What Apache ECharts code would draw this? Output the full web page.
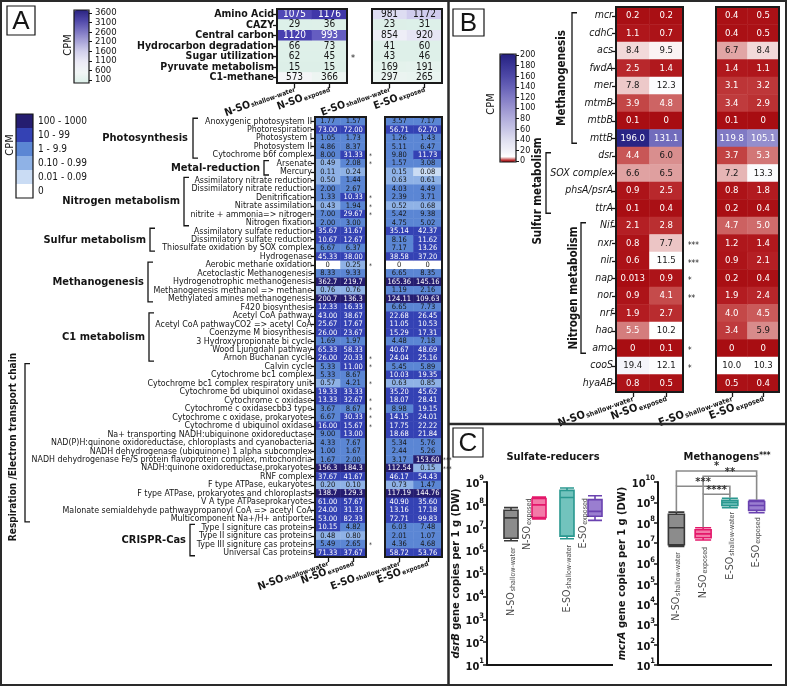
<!DOCTYPE html>
<html><head><meta charset="utf-8">
<script src="https://cdn.jsdelivr.net/npm/echarts@6.0.0/dist/echarts.min.js"></script>
<style>html,body{margin:0;padding:0;background:#fff;}#chart{width:787px;height:686px;}</style>
</head><body><div id="chart"></div>
<script>
// ================= DATA =================
const sites = ['N-SO','N-SO','E-SO','E-SO'];
const habitats = ['shallow-water','exposed','shallow-water','exposed'];

// Panel A (top)
const topRows = ['Amino Acid','CAZY','Central carbon','Hydrocarbon degradation','Sugar utilization','Pyruvate metabolism','C1-methane'];
const topNSOsw = [1075,29,1120,66,62,15,573];
const topNSOex = [1176,36,993,73,45,15,366];
const topESOsw = [981,23,854,41,43,169,297];
const topESOex = [1172,31,920,60,46,191,265];
const topSig = [{row:4,text:'*'}];
const topTickVals = [100,600,1100,1600,2100,2600,3100,3600];

// Panel A (bottom)
const aRows = ['Anoxygenic photosystem II','Photorespiration','Photosystem I','Photosystem II','Cytochrome b6f complex',
'Arsenate','Mercury',
'Assimilatory nitrate reduction','Dissimilatory nitrate reduction','Denitrification','Nitrate assimilation','nitrite + ammonia=> nitrogen','Nitrogen fixation',
'Assimilatory sulfate reduction','Dissimilatory sulfate reduction','Thiosulfate oxidation by SOX complex','Hydrogenase',
'Aerobic methane oxidation','Acetoclastic Methanogenesis','Hydrogenotrophic methanogenesis','Methanogenesis methanol => methane','Methylated amines methanogenesis','F420 biosynthesis',
'Acetyl CoA pathway','Acetyl CoA pathwayCO2 => acetyl CoA','Coenzyme M biosynthesis','3 Hydroxypropionate bi cycle','Wood Ljungdahl pathway','Arnon Buchanan cycle','Calvin cycle',
'Cytochrome bc1 complex','Cytochrome bc1 complex respiratory unit','Cytochrome bd ubiquinol oxidase','Cytochrome c oxidase','Cytochrome c oxidasecbb3 type','Cytochrome c oxidase, prokaryotes','Cytochrome d ubiquinol oxidase',
'Na+ transporting NADH:ubiquinone oxidoreductase','NAD(P)H:quinone oxidoreductase, chloroplasts and cyanobacteria','NADH dehydrogenase (ubiquinone) 1 alpha subcomplex','NADH dehydrogenase Fe/S protein flavoprotein complex, mitochondria','NADH:quinone oxidoreductase,prokaryotes','RNF complex',
'F type ATPase, eukaryotes','F type ATPase, prokaryotes and chloroplasts','V A type ATPaseprokaryotes','Malonate semialdehyde pathwaypropanoyl CoA => acetyl CoA','Multicomponent Na+/H+ antiporter',
'Type I signiture cas proteins','Type II signiture cas proteins','Type III signiture cas proteins','Universal Cas proteins'];
const aNSOsw = [1.77,73.00,1.05,4.86,8.00, 0.49,0.11, 0.50,2.00,1.33,0.43,7.00,2.00, 35.67,10.67,6.67,45.33, 0,8.33,362.7,0.76,200.7,12.33, 43.00,25.67,26.00,1.69,65.33,26.00,5.33, 5.33,0.57,19.33,13.33,3.67,6.67,16.00, 9.00,4.33,1.00,1.67,156.3,37.67, 0.20,138.7,61.00,24.00,53.00, 10.15,0.48,5.49,71.33];
const aNSOex = [1.57,72.00,1.73,8.37,31.33, 2.08,0.24, 1.44,2.67,10.33,1.94,29.67,3.00, 31.67,12.67,6.37,38.00, 0.25,9.33,219.7,0.76,136.3,16.33, 38.67,17.67,23.67,1.97,58.33,20.33,11.00, 8.67,4.21,33.33,32.67,8.67,30.33,15.67, 13.00,7.67,1.67,2.00,184.3,41.67, 0.10,129.3,57.67,31.33,82.33, 4.82,0.80,2.65,37.67];
const aESOsw = [3.57,56.71,1.26,5.11,9.80, 1.57,0.15, 0.63,4.03,2.39,0.52,5.42,4.75, 35.14,8.16,7.17,38.58, 0,6.65,165.36,1.19,124.11,6.65, 22.68,11.05,15.29,4.48,40.67,24.04,5.45, 10.03,0.63,35.20,18.07,8.98,14.15,17.75, 18.68,5.34,2.44,3.17,112.54,46.17, 0.73,117.19,40.90,13.16,72.71, 6.03,2.01,4.36,58.72];
const aESOex = [7.17,62.70,1.43,6.47,11.73, 3.08,0.08, 0.61,4.49,3.71,0.68,9.38,5.02, 42.37,11.62,13.26,37.20, 0,8.35,145.16,2.16,109.63,7.73, 26.45,10.53,17.31,7.18,48.69,25.16,5.89, 19.35,0.85,45.62,28.41,19.15,24.01,22.22, 21.84,5.76,5.26,153.60,0.15,54.43, 1.47,144.76,35.60,17.18,99.83, 7.48,1.07,4.68,53.76];
const aSigN = [4,5,9,10,11,17,28,29,31,33,34,35,36,50];
const aSigE = [{row:40,text:'***'},{row:41,text:'***'}];
const aGroups = [
  {name:'Photosynthesis',from:0,to:4},{name:'Metal-reduction',from:5,to:6},{name:'Nitrogen metabolism',from:7,to:12},
  {name:'Sulfur metabolism',from:13,to:15},{name:'Methanogenesis',from:17,to:21},{name:'C1 metabolism',from:23,to:28},
  {name:'Respiration /Electron transport chain',from:29,to:47},{name:'CRISPR-Cas',from:48,to:51}];
const aBins = [
  {gte:100,label:'100 - 1000'},{gte:10,lt:100,label:'10 - 99'},{gte:1,lt:10,label:'1 - 9.9'},
  {gte:0.1,lt:1,label:'0.10 - 0.99'},{gte:0.01,lt:0.1,label:'0.01 - 0.09'},{value:0,label:'0'}];

// Panel B
const bRows = ['mcr','cdhC','acs','fwdA','mer','mtmB','mtbB','mttB','dsr','SOX complex','phsA/psrA','ttrA','Nif','nxr','nir','nap','nor','nrf','hao','amo','cooS','hyaAB'];
const bNSOsw = [0.2,1.1,8.4,2.5,7.8,3.9,0.1,196.0,4.4,6.6,0.9,0.1,2.1,0.8,0.6,0.013,0.9,1.9,5.5,0,19.4,0.8];
const bNSOex = [0.2,0.7,9.5,1.4,12.3,4.8,0,131.1,6.0,6.5,2.5,0.4,2.8,7.7,11.5,0.9,4.1,2.7,10.2,0.1,12.1,0.5];
const bESOsw = [0.4,0.4,6.7,1.4,3.1,3.4,0.1,119.8,3.7,7.2,0.8,0.2,4.7,1.2,0.9,0.2,1.9,4.0,3.4,0,10.0,0.5];
const bESOex = [0.5,0.5,8.4,1.1,3.2,2.9,0,105.1,5.3,13.3,1.8,0.4,5.0,1.4,2.1,0.4,2.4,4.5,5.9,0,10.3,0.4];
const bSig = [{row:13,text:'***'},{row:14,text:'***'},{row:15,text:'*'},{row:16,text:'**'},{row:19,text:'*'},{row:20,text:'*'}];
const bGroups = [{name:'Methanogenesis',from:0,to:7},{name:'Sulfur metabolism',from:8,to:11},{name:'Nitrogen metabolism',from:12,to:19}];

// Panel C  [min, Q1, median, Q3, max]
const cTitles = ['Sulfate-reducers','Methanogens'];
const srBox = [[2.7e6,3.5e6,2.7e7,5.8e7,7.6e7],[2.4e7,2.8e7,1.0e8,1.9e8,2.2e8],[3.3e6,4.3e6,2.1e8,4.3e8,5.5e8],[2.1e7,3.2e7,5.2e7,1.7e8,2.5e8]];
const mgBox = [[6.8e6,8.2e6,5.6e7,2.6e8,3.3e8],[1.4e7,1.8e7,2.8e7,4.5e7,5.6e7],[5.5e8,7.0e8,1.0e9,1.26e9,1.6e9],[3.1e8,4.0e8,7.0e8,1.1e9,1.26e9]];
const mgSig = [{a:0,b:3,text:'*'},{a:1,b:3,text:'**'},{a:0,b:2,text:'***'},{a:1,b:2,text:'****'}];

// ================= STYLE / LAYOUT =================
const FN = '"DejaVu Sans Condensed","Liberation Sans",Arial,sans-serif';
const INK = '#151515';
function hex2rgb(h){h=h.replace('#','');return [0,2,4].map(i=>parseInt(h.substr(i,2),16));}
function rgb2hex(c){return '#'+c.map(v=>Math.max(0,Math.min(255,Math.round(v))).toString(16).padStart(2,'0')).join('');}
function interp(an,v){
  if(v<=an[0][0]) return an[0][1];
  for(let i=1;i<an.length;i++){ if(v<=an[i][0]){const [v0,c0]=an[i-1],[v1,c1]=an[i];const t=(v-v0)/(v1-v0);const a=hex2rgb(c0),b=hex2rgb(c1);return rgb2hex(a.map((x,k)=>x+(b[k]-x)*t));}}
  return an[an.length-1][1];
}
function ramp(an,min,max,n){const o=[];for(let i=0;i<n;i++)o.push(interp(an,min+(max-min)*i/(n-1)));return o;}
function lum(h){const [r,g,b]=hex2rgb(h);return (0.299*r+0.587*g+0.114*b)/255;}

const topNAnch = [[0,'#dcefe8'],[100,'#e0f1ea'],[300,'#e9f4f0'],[500,'#f3f6f6'],[600,'#f4f4f8'],[700,'#dedcf1'],[800,'#b4afe0'],[900,'#8a82cf'],[1000,'#625ac0'],[1100,'#4b42b2'],[1200,'#3c33a6']];
const topEAnch = [[0,'#dcefe8'],[100,'#e0f1ea'],[300,'#ebf4f1'],[600,'#f2f4f6'],[850,'#eeeef7'],[1000,'#dcdaf1'],[1200,'#cecaec']];
const topBarAnch = [[100,'#dcefe8'],[600,'#f2f6f6'],[1100,'#ecebf6'],[1600,'#d2d0ec'],[2100,'#a8a3d8'],[2600,'#7b74c2'],[3100,'#4f47a8'],[3600,'#2a2380']];
const binColors = ['#251d70','#3442b4','#5b86d4','#8fb2e6','#cadcf4','#ffffff'];
const bAnch = [[0,'#a80d12'],[2,'#b31d22'],[4,'#c44848'],[6,'#d98e8e'],[8,'#efcfcf'],[10,'#ffffff'],[20,'#f3f3f9'],[40,'#e0e0f0'],[60,'#c8c6e6'],[80,'#b2aedc'],[100,'#9a94d0'],[120,'#807ac4'],[140,'#6560b6'],[160,'#4d48a6'],[180,'#383494'],[200,'#252080']];
const boxColors = [{fill:'#8c8c8c',line:'#383838'},{fill:'#f37aa8',line:'#e4176a'},{fill:'#72c3bd',line:'#2a9890'},{fill:'#9a7ed0',line:'#6a42b0'}];

// grids: [left, top, width, height]
const G = [[277,9,70,74],[372,9,70,74],[315,117,51,440],[385,117,57,440],[616,7,67,385],[716,7,63,385],[497,482,112,183],[663,482,107,183],[89,13,1,67],[516,55,1,106]];

const chart = echarts.init(document.getElementById('chart'), null, {renderer:'canvas'});

function cells(cols){const d=[];cols.forEach((col,c)=>col.forEach((v,r)=>d.push([c,r,v])));return d;}
function sampleLab(i){return sites[i]+'|'+habitats[i];}

function catX(gi, labels, mSize, sSize, margin){
  return {type:'category', gridIndex:gi, data:labels, position:'bottom',
    axisLine:{show:false}, axisTick:{show:true,length:5,alignWithLabel:true,lineStyle:{color:INK,width:1.3}},
    splitLine:{show:false},
    axisLabel:{show:true, interval:0, rotate:20, margin:margin,
      formatter:v=>{const p=v.split('|');return '{m|'+p[0]+'}{s|'+p[1]+'}';},
      rich:{m:{fontFamily:FN,fontWeight:'bold',fontSize:mSize,color:INK,lineHeight:mSize,verticalAlign:'top'},
            s:{fontFamily:FN,fontWeight:'bold',fontSize:sSize,color:INK,lineHeight:sSize,padding:[mSize-sSize+3,0,0,1],verticalAlign:'bottom'}}}};
}
function catY(gi, rows, show, lab){
  return {type:'category', gridIndex:gi, data:rows, inverse:true,
    axisLine:{show:false}, splitLine:{show:false},
    axisTick:{show:show,length:4,alignWithLabel:true,lineStyle:{color:INK,width:1.3}},
    axisLabel:Object.assign({show:show,interval:0,margin:3,color:INK,fontFamily:FN},lab)};
}
function logY(gi,max,nameRich){
  return {type:'log', gridIndex:gi, logBase:10, min:10, max:max, splitNumber:12, offset: gi===6?10:5,
    axisLine:{show:true,lineStyle:{color:INK,width:2}}, axisTick:{show:true,length:4,lineStyle:{color:INK,width:1.5}},
    splitLine:{show:false}, minorTick:{show:false},
    axisLabel:{margin:3, showMinLabel:true, showMaxLabel:true, formatter:v=>'{b|10}{p|'+Math.round(Math.log10(v))+'}',
      rich:{b:{fontFamily:FN,fontWeight:'bold',fontSize:11,color:INK,lineHeight:15,verticalAlign:'bottom'},
            p:{fontFamily:FN,fontWeight:'bold',fontSize:7.5,color:INK,lineHeight:8,verticalAlign:'top'}}},
    name:nameRich, nameLocation:'middle', nameGap: gi===6?22:26, nameRotate:90,
    nameTextStyle:{rich:{i:{fontFamily:FN,fontWeight:'bold',fontStyle:'italic',fontSize:11,color:INK},
                         n:{fontFamily:FN,fontWeight:'bold',fontSize:11,color:INK}}}};
}
function catC(gi){
  return {type:'category', gridIndex:gi, data:[0,1,2,3], boundaryGap:true,
    axisLine:{show:false}, axisTick:{show:false}, axisLabel:{show:false}, splitLine:{show:false}};
}

function hmLabel(fmt, colorFn, fs){
  return {show:true, formatter:p=>{const v=p.value[2];return '{'+(colorFn(v,p)?'w':'d')+'|'+fmt(v)+'}';},
    rich:{w:{color:'#ffffff',fontFamily:FN,fontSize:fs},d:{color:'#161616',fontFamily:FN,fontSize:fs}}};
}
const fmtTop = v=>String(v);
const fmtAN = v=>v===0?'0':(v>=100?v.toFixed(1):v.toFixed(2));
const fmtAE = v=>v===0?'0':v.toFixed(2);
const fmtB = v=>v===0?'0':(v<0.05?String(v):v.toFixed(1));

function boxData(arr){return arr.map((b,i)=>({value:b,itemStyle:{color:boxColors[i].fill,borderColor:boxColors[i].line,borderWidth:1.6}}));}

const subRich = {m:{fontFamily:FN,fontSize:10.5,color:INK,lineHeight:11,verticalAlign:'top'},
                 s:{fontFamily:FN,fontSize:7,color:INK,lineHeight:7,padding:[6,0,0,1],verticalAlign:'bottom'}};
// label offsets are in the rotated frame: [along text, across text]
function catLabels(tops, offs){
  return tops.map((t,i)=>({value:[i,t], label:{offset:[0,offs[i]]}}));
}
const srLabTop = [1.7e6, 2.3e8, 2.2e6, 2.4e8];
const srLabOff = [0,-12,0,-12];
const mgLabTop = [4.5e6, 8.0e6, 4.2e8, 2.3e8];
const mgLabOff = [0,0,0,0];

const hmBase = {type:'heatmap', progressive:0, emphasis:{disabled:true}, itemStyle:{borderWidth:0}};
const cbAxis = (gi,min,max,iv,fs,showLab)=>({type:'value',gridIndex:gi,position:'right',min:min,max:max,interval:iv,
  axisLine:{show:false},splitLine:{show:false},axisTick:{show:true,length:3,lineStyle:{color:INK}},
  axisLabel:{show:showLab,margin:3,fontFamily:FN,fontSize:fs,color:INK,formatter:v=>String(v)}});

const option = {
  animation:false, backgroundColor:'#ffffff', tooltip:{show:false},
  grid: G.map(([l,t,w,h])=>({left:l,top:t,width:w,height:h,containLabel:false,outerBoundsMode:'none'})),
  xAxis:[
    catX(0,[sampleLab(0),sampleLab(1)],10.5,6.5,5), catX(1,[sampleLab(2),sampleLab(3)],10.5,6.5,5),
    catX(2,[sampleLab(0),sampleLab(1)],10.5,6.5,5), catX(3,[sampleLab(2),sampleLab(3)],10.5,6.5,5),
    catX(4,[sampleLab(0),sampleLab(1)],11,7,5), catX(5,[sampleLab(2),sampleLab(3)],11,7,5),
    catC(6), catC(7),
    {type:'value',gridIndex:8,show:false},{type:'value',gridIndex:9,show:false}
  ],
  yAxis:[
    catY(0,topRows,true,{fontWeight:'bold',fontSize:10.5}), catY(1,topRows,false,{}),
    catY(2,aRows,true,{fontSize:8.8}), catY(3,aRows,false,{}),
    catY(4,bRows,true,{fontStyle:'italic',fontSize:10.5}), catY(5,bRows,false,{}),
    logY(6,1e9,'{i|dsrB}{n| gene copies per 1 g (DW)}'), logY(7,1e10,'{i|mcrA}{n| gene copies per 1 g (DW)}'),
    cbAxis(8,topTickVals[0],topTickVals[topTickVals.length-1],500,9.5,false), cbAxis(9,0,200,20,9,true)
  ],
  visualMap:[
    {type:'continuous',show:false,seriesIndex:0,dimension:2,min:0,max:1200,inRange:{color:ramp(topNAnch,0,1200,121)}},
    {type:'continuous',show:false,seriesIndex:1,dimension:2,min:0,max:1200,inRange:{color:ramp(topEAnch,0,1200,121)}},
    {type:'piecewise',show:true,seriesIndex:[2,3],dimension:2,orient:'vertical',left:16,top:114,itemWidth:17,itemHeight:14,itemGap:0,
      itemSymbol:'rect',padding:0,textGap:5,selectedMode:false,textStyle:{fontFamily:FN,fontSize:10,color:INK},
      pieces:aBins.map((p,i)=>Object.assign({color:binColors[i]},p))},
    {type:'continuous',show:true,seriesIndex:[4,5],dimension:2,min:0,max:200,orient:'vertical',left:500,top:54,itemWidth:16,itemHeight:108,
      padding:0,calculable:false,hoverLink:false,inRange:{color:ramp(bAnch,0,200,201)}},
    {type:'continuous',show:true,seriesIndex:[10],min:100,max:3600,orient:'vertical',left:74,top:10,itemWidth:15,itemHeight:73,
      padding:0,calculable:false,hoverLink:false,inRange:{color:ramp(topBarAnch,100,3600,71)}}
  ],
  series:[
    Object.assign({},hmBase,{xAxisIndex:0,yAxisIndex:0,data:cells([topNSOsw,topNSOex]),
      label:hmLabel(fmtTop,v=>lum(interp(topNAnch,v))<0.55,10)}),
    Object.assign({},hmBase,{xAxisIndex:1,yAxisIndex:1,data:cells([topESOsw,topESOex]),
      label:hmLabel(fmtTop,v=>lum(interp(topEAnch,v))<0.55,10)}),
    Object.assign({},hmBase,{xAxisIndex:2,yAxisIndex:2,data:cells([aNSOsw,aNSOex]),label:hmLabel(fmtAN,v=>v>=10,7.5)}),
    Object.assign({},hmBase,{xAxisIndex:3,yAxisIndex:3,data:cells([aESOsw,aESOex]),label:hmLabel(fmtAE,v=>v>=10,7.5)}),
    Object.assign({},hmBase,{xAxisIndex:4,yAxisIndex:4,data:cells([bNSOsw,bNSOex]),label:hmLabel(fmtB,v=>lum(interp(bAnch,v))<0.62,9.5)}),
    Object.assign({},hmBase,{xAxisIndex:5,yAxisIndex:5,data:cells([bESOsw,bESOex]),label:hmLabel(fmtB,v=>lum(interp(bAnch,v))<0.62,9.5)}),
    {type:'boxplot',xAxisIndex:6,yAxisIndex:6,boxWidth:[14,14],data:boxData(srBox),emphasis:{disabled:true}},
    {type:'boxplot',xAxisIndex:7,yAxisIndex:7,boxWidth:[16,16],data:boxData(mgBox),emphasis:{disabled:true}},
    {type:'scatter',xAxisIndex:6,yAxisIndex:6,symbolSize:0,silent:true,data:catLabels(srLabTop,srLabOff),
      label:{show:true,position:'bottom',distance:2,rotate:90,align:'right',verticalAlign:'middle',
        formatter:p=>'{m|'+sites[p.dataIndex]+'}{s|'+habitats[p.dataIndex]+'}',rich:subRich}},
    {type:'scatter',xAxisIndex:7,yAxisIndex:7,symbolSize:0,silent:true,data:catLabels(mgLabTop,mgLabOff),
      label:{show:true,position:'bottom',distance:2,rotate:90,align:'right',verticalAlign:'middle',
        formatter:p=>'{m|'+sites[p.dataIndex]+'}{s|'+habitats[p.dataIndex]+'}',rich:subRich}},
    {type:'scatter',xAxisIndex:8,yAxisIndex:8,data:[],symbolSize:0}
  ]
};
chart.setOption(option);

// ============ annotations (brackets, labels, frames) ============
const px = (gi,x,y)=>chart.convertToPixel({gridIndex:gi},[x,y]);
const gfx = [];
function T(x,y,text,font,o){o=o||{};return {type:'text',x:x,y:y,rotation:o.rot||0,z:100,silent:true,
  style:{text:text,font:font,fill:o.fill||INK,textAlign:o.align||'left',textVerticalAlign:o.valign||'middle',
    align:o.align||'left',verticalAlign:o.valign||'middle',rich:o.rich}};}
function L(points,o){o=o||{};return {type:'polyline',z:100,silent:true,shape:{points:points},style:{stroke:o.stroke||INK,lineWidth:o.w||1.3,fill:null}};}
function R(x,y,w,h,o){o=o||{};return {type:'rect',z:o.z||100,silent:true,shape:{x:x,y:y,width:w,height:h},style:{stroke:o.stroke||INK,lineWidth:o.w||1.5,fill:'transparent'}};}
const bold = s=>'bold '+s+'px '+FN;
const reg = s=>s+'px '+FN;

// frames
gfx.push(R(1,1,785,684,{w:2,stroke:'#2a2a2a'}));
gfx.push(L([[448.5,0],[448.5,686]],{w:2.5,stroke:'#2a2a2a'}));
gfx.push(L([[448,424],[787,424]],{w:2.5,stroke:'#2a2a2a'}));
// panel letters
[['A',7,6,28,29],['B',453,9,31,27],['C',453,428,30,29]].forEach(([t,x,y,w,h])=>{
  gfx.push(R(x,y,w,h,{w:1.2,stroke:INK}));
  gfx.push(T(x+w/2,y+h/2+1,t,'26px "Liberation Sans",Arial,sans-serif',{align:'center'}));
});
// heatmap block borders
[0,1,2,3,4,5].forEach(i=>{const [l,t,w,h]=G[i];gfx.push(R(l,t,w,h,{w:2,stroke:'#1a1a1a'}));});
// colorbar borders
gfx.push(R(74,10,15,73,{w:1.2}));
gfx.push(R(500,54,16,108,{w:1.2}));
gfx.push(R(16,114,17,84,{w:1.2}));
// A-top colorbar tick labels (positions from its axis)
topTickVals.forEach(v=>{const p=px(8,0,v);gfx.push(T(G[8][0]+G[8][2]+5,p[1],String(v),reg(9.5)));});
// CPM labels
gfx.push(T(68,45,'CPM',reg(11),{rot:Math.PI/2,align:'center'}));
gfx.push(T(10,145,'CPM',reg(11),{rot:Math.PI/2,align:'center'}));
gfx.push(T(491,104,'CPM',reg(11),{rot:Math.PI/2,align:'center'}));

// significance marks
topSig.forEach(s=>{const p=px(0,1,s.row);gfx.push(T(G[0][0]+G[0][2]+4,p[1]+2,s.text,reg(9)));});
aSigN.forEach(r=>{const p=px(2,1,r);gfx.push(T(G[2][0]+G[2][2]+3,p[1]+1,'*',reg(6.5)));});
aSigE.forEach(s=>{const p=px(3,1,s.row);gfx.push(T(G[3][0]+G[3][2]+1,p[1]+1,s.text,reg(6.5)));});
bSig.forEach(s=>{const p=px(4,1,s.row);gfx.push(T(G[4][0]+G[4][2]+5,p[1]+3,s.text,reg(8)));});

// Panel A group labels + brackets
const aGroupPos = {'Photosynthesis':{lx:188,bx:193},'Metal-reduction':{lx:260,bx:264},'Nitrogen metabolism':{lx:180,bx:184},
  'Sulfur metabolism':{lx:146,bx:150},'Methanogenesis':{lx:144,bx:148},'C1 metabolism':{lx:145,bx:149},
  'Respiration /Electron transport chain':{lx:13,bx:25,vertical:true},'CRISPR-Cas':{lx:186,bx:190}};
aGroups.forEach(g=>{
  const pos=aGroupPos[g.name];
  const y0=px(2,0,g.from)[1]-3, y1=px(2,0,g.to)[1]+3;
  gfx.push(L([[pos.bx+5,y0],[pos.bx,y0],[pos.bx,y1],[pos.bx+5,y1]],{w:1.3}));
  if(pos.vertical){gfx.push(T(pos.lx,447,g.name,bold(10),{rot:Math.PI/2,align:'center'}));}
  else gfx.push(T(pos.lx,(y0+y1)/2,g.name,bold(11),{align:'right'}));
});
// Panel B group labels + brackets
const bGroupPos = {'Methanogenesis':{lx:562,bx:572},'Sulfur metabolism':{lx:538,bx:546},'Nitrogen metabolism':{lx:574,bx:581}};
bGroups.forEach(g=>{
  const pos=bGroupPos[g.name];
  const y0=px(4,0,g.from)[1]-3, y1=px(4,0,g.to)[1]+5;
  gfx.push(L([[pos.bx+5,y0],[pos.bx,y0],[pos.bx,y1],[pos.bx+5,y1]],{w:1.3}));
  gfx.push(T(pos.lx,(y0+y1)/2 + (g.name==='Sulfur metabolism'?8:0),g.name,bold(11.5),{rot:Math.PI/2,align:'center'}));
});

// Panel C: axis line extensions, titles, significance brackets
gfx.push(L([[487,665],[613,665]],{w:2}));
gfx.push(L([[658,665],[772,665]],{w:2}));
gfx.push(T(553,457,cTitles[0],bold(11),{align:'center'}));
gfx.push(T(727,457,'{a|'+cTitles[1]+'}{b|***}',bold(11),{align:'center',
  rich:{a:{font:bold(11),fill:INK},b:{font:bold(8),fill:INK,verticalAlign:'top',lineHeight:8,padding:[0,0,5,0]}}}));
const sigLevels = [[10.54,9.79,10.28],[10.28,9.40,9.12],[9.79,8.55,9.40],[9.40,7.78,9.22]];
mgSig.forEach((s,i)=>{
  const [lv,da,db]=sigLevels[i];
  const pa=px(7,s.a,Math.pow(10,lv)), pb=px(7,s.b,Math.pow(10,lv));
  const ya=px(7,s.a,Math.pow(10,da))[1], yb=px(7,s.b,Math.pow(10,db))[1];
  gfx.push(L([[pa[0],ya],[pa[0],pa[1]],[pb[0],pb[1]],[pb[0],yb]],{stroke:'#8a8a8a',w:1.6}));
  gfx.push(T((pa[0]+pb[0])/2,pa[1]+1,s.text,bold(11),{align:'center',valign:'bottom',fill:'#333'}));
});

chart.setOption({graphic:{elements:gfx}});
</script></body></html>
